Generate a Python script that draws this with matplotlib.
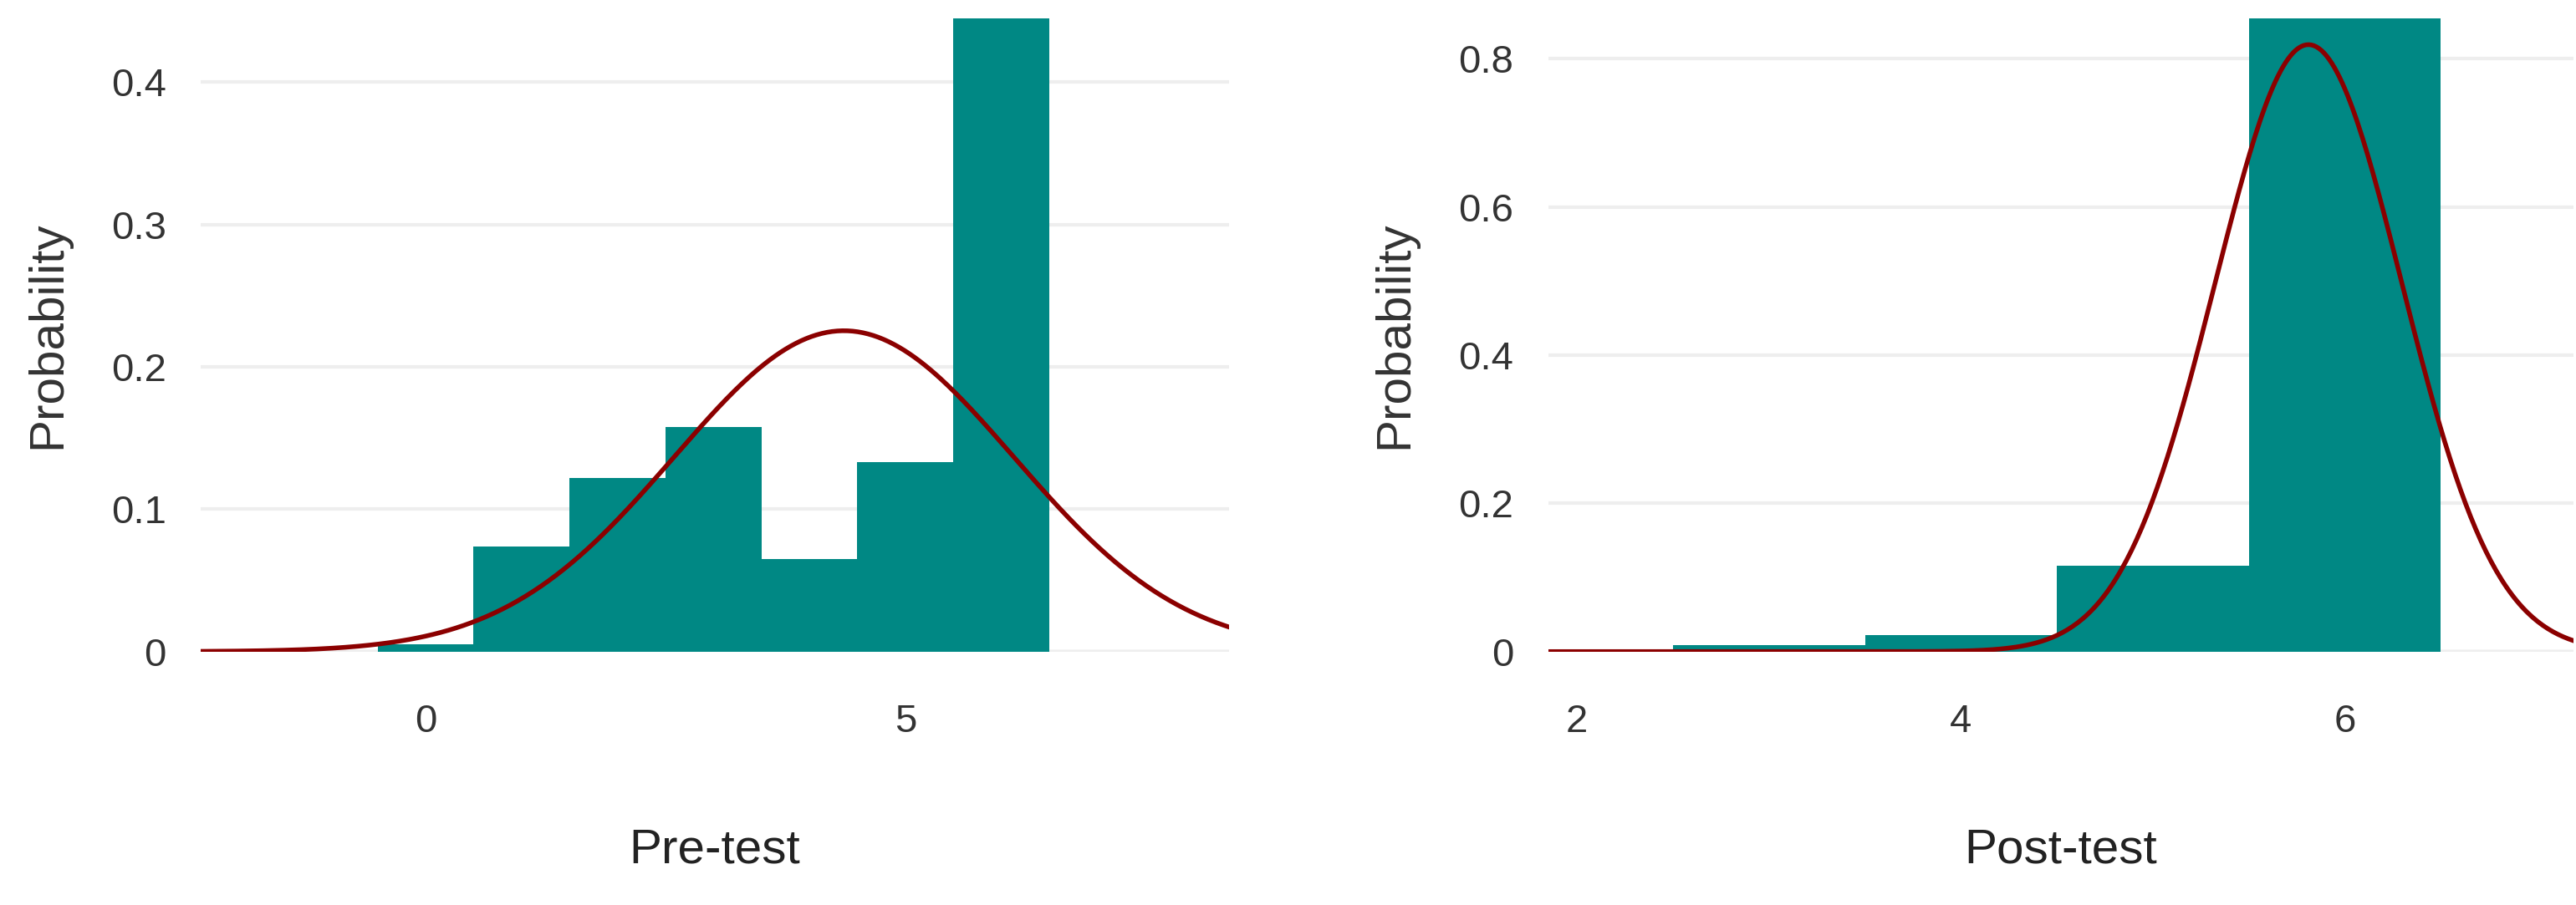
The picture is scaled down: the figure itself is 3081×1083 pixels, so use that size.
import numpy as np
import matplotlib
matplotlib.use('Agg')
import matplotlib.pyplot as plt

plt.rcParams['font.family'] = ['Liberation Sans', 'DejaVu Sans']

# pre-test histogram (bin centres, probability)
pre_bins = [0, 1, 2, 3, 4, 5, 6]
pre_prob = [0.005, 0.074, 0.122, 0.158, 0.065, 0.133, 0.445]
pre_mean, pre_sd = 4.36, 1.77

# post-test histogram
post_bins = [3, 4, 5, 6]
post_prob = [0.009, 0.022, 0.116, 0.855]
post_mean, post_sd = 5.81, 0.487

teal = '#008884'
red = '#8b0000'

fig = plt.figure(figsize=(30.81, 10.83), dpi=100)
ax1 = fig.add_axes([0.078, 0.28, 0.399, 0.70])
ax2 = fig.add_axes([0.601, 0.28, 0.398, 0.70])


def panel(ax, bins, prob, mu, sd, xlim, ylim, xticks, yticks, ylabels, xlabel):
    ax.bar(bins, prob, width=1.0, color=teal, zorder=2)
    xs = np.linspace(xlim[0], xlim[1], 400)
    ys = np.exp(-0.5 * ((xs - mu) / sd) ** 2) / (sd * np.sqrt(2 * np.pi))
    ax.plot(xs, ys, color=red, lw=4, zorder=3, clip_on=True)
    ax.set_xlim(*xlim)
    ax.set_ylim(*ylim)
    ax.set_xticks(xticks)
    ax.set_yticks(yticks)
    ax.set_yticklabels(ylabels)
    ax.grid(axis='y', color='#eeeeee', lw=3, zorder=0)
    ax.axhline(0, color='#999999', lw=3, zorder=1)
    for s in ax.spines.values():
        s.set_visible(False)
    ax.tick_params(length=0, labelsize=34, colors='#333333', pad=30)
    ax.tick_params(axis='x', pad=45)
    ax.set_ylabel('Probability', fontsize=42, color='#333333', labelpad=35)
    ax.set_xlabel(xlabel, fontsize=42, color='#222222', labelpad=75)


panel(ax1, pre_bins, pre_prob, pre_mean, pre_sd, (-2.34, 8.37), (0, 0.445),
      [0, 5], [0, 0.1, 0.2, 0.3, 0.4], ['0', '0.1', '0.2', '0.3', '0.4'], 'Pre-test')
panel(ax2, post_bins, post_prob, post_mean, post_sd, (1.85, 7.19), (0, 0.855),
      [2, 4, 6], [0, 0.2, 0.4, 0.6, 0.8], ['0', '0.2', '0.4', '0.6', '0.8'], 'Post-test')

fig.savefig('out.png', dpi=100)
